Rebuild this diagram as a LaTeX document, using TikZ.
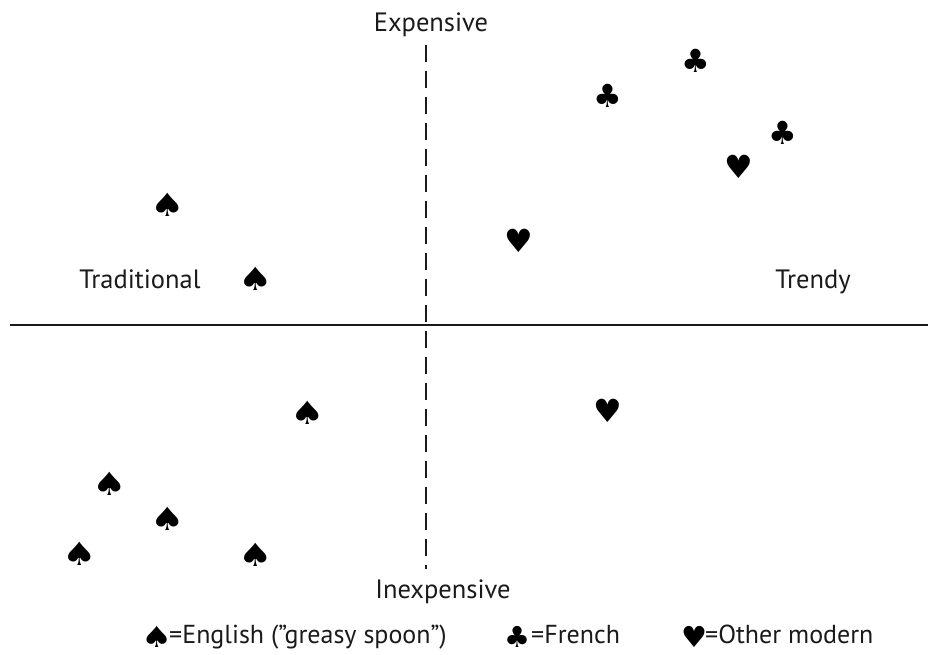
\documentclass[tikz,border=0pt]{standalone}
\usepackage{fontspec}
\setmainfont{PT Sans}
\newfontfamily\suitfont{DejaVu Sans}
\definecolor{inkgray}{HTML}{1A1A1A}
\newcommand\spadeglyph{\scalebox{1.2}[1]{♠}}
\tikzset{
  axislabel/.style={font=\fontsize{26.5}{30}\selectfont, text=inkgray, inner sep=0pt},
  keylabel/.style={font=\fontsize{26}{29}\selectfont, text=inkgray, inner sep=0pt},
  suit/.style={font=\suitfont\fontsize{32}{34}\selectfont, inner sep=0pt},
  keysuit/.style={font=\suitfont\fontsize{29}{31}\selectfont, inner sep=0pt}
}
\begin{document}
\begin{tikzpicture}[x=1pt,y=-1pt]
    \useasboundingbox (0,0) rectangle (928,655);
    % axes
    \coordinate (top) at (426,45);
    \coordinate (bottom) at (426,569);
    \coordinate (left) at (10,325);
    \coordinate (right) at (928,325);
    \draw[line width=2pt, inkgray] (left) -- (right);
    \draw[line width=2pt, inkgray, dash pattern=on 17pt off 9pt] (top) -- (bottom);
    \node[axislabel, anchor=base] (exp) at (431,32) {Expensive};
    \node[axislabel, anchor=base] (inexp) at (443,598) {Inexpensive};
    \node[axislabel, anchor=base] (trad) at (140,288) {Traditional};
    \node[axislabel, anchor=base] (trendy) at (813,288) {Trendy};
    % English
    \node[suit] (e1) at (168,205) {\spadeglyph};
    \node[suit] (e2) at (256,279) {\spadeglyph};
    \node[suit] (e3) at (308,413) {\spadeglyph};
    \node[suit] (e4) at (110,484) {\spadeglyph};
    \node[suit] (e5) at (168,519) {\spadeglyph};
    \node[suit] (e6) at (80,554) {\spadeglyph};
    \node[suit] (e7) at (256,555) {\spadeglyph};
    % French
    \node[suit] (f1) at (608,96) {♣};
    \node[suit] (f2) at (696,61) {♣};
    \node[suit] (f3) at (783,133) {♣};
    % Other modern
    \node[suit] (m1) at (519,241) {♥};
    \node[suit] (m2) at (739,167) {♥};
    \node[suit] (m3) at (608,411) {♥};
    % key
    \node[keysuit] (k1) at (157,637) {\spadeglyph};
    \node[keylabel, anchor=base west] (k1t) at (169,643) {=English (”greasy spoon”)};
    \node[keysuit] (k2) at (517,637) {♣};
    \node[keylabel, anchor=base west] (k2t) at (531,643) {=French};
    \node[keysuit] (k3) at (694,637) {♥};
    \node[keylabel, anchor=base west] (k3t) at (705,643) {=Other modern};
\end{tikzpicture}
\end{document}
